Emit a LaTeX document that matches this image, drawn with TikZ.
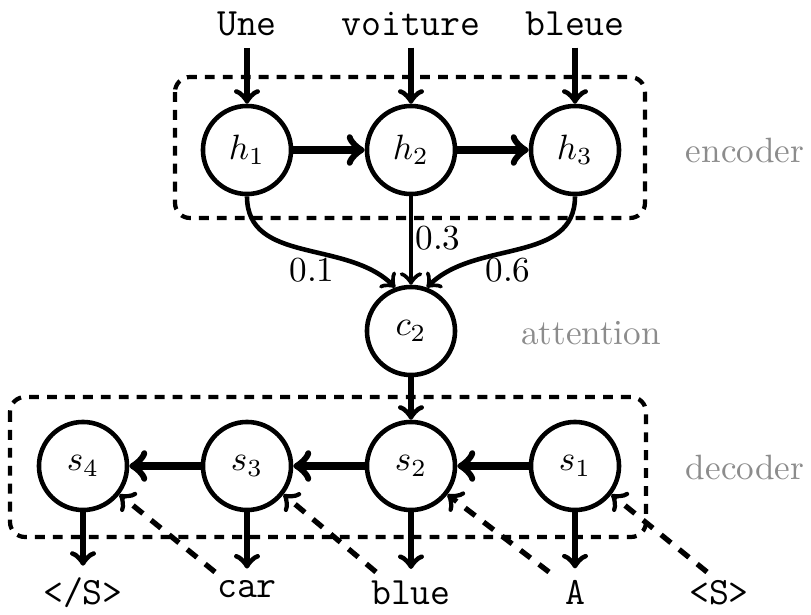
\documentclass[tikz,border=0pt]{standalone}
\usetikzlibrary{positioning}

\begin{document}
\begin{tikzpicture}[x=0.01cm, y=-0.01cm,
	rnn/.style={circle, draw, line width=1.3pt, minimum size=0.88cm, inner sep=0pt},
	word/.style={font=\fontsize{11}{13}\selectfont\ttfamily, anchor=base},
	part/.style={text=black!45},
	recur/.style={->, line width=2.1pt},
	io/.style={->, line width=1.6pt},
	attn/.style={->, line width=1.3pt},
	feed/.style={->, line width=1.5pt, dash pattern=on 3.6pt off 3pt},
	box/.style={line width=1.2pt, dash pattern=on 2.8pt off 2.3pt, rounded corners=0.15cm}]

	\useasboundingbox (0,0) rectangle (811,615);

	% ENCODER
	\node[rnn] (h1) at (247,150) {$h_1$};
	\node[rnn] (h2) at (411,150) {$h_2$};
	\node[rnn] (h3) at (575,150) {$h_3$};

	\node[word] (une) at (247,35) {Une};
	\node[word] (voiture) at (411,35) {voiture};
	\node[word] (bleue) at (575,35) {bleue};

	\draw[io] (une) -- (h1);
	\draw[io] (voiture) -- (h2);
	\draw[io] (bleue) -- (h3);
	\draw[recur] (h1) -- (h2);
	\draw[recur] (h2) -- (h3);

	\draw[box] (175,77) rectangle (645,218);
	\node[part] (enc) at (745,150) {encoder};

	% ATTENTION
	\node[rnn] (c2) at (411,331) {$c_2$};
	\draw[attn] (h1) to[out=-90, in=135] (c2.110);
	\draw[attn] (h2) -- (c2);
	\draw[attn] (h3) to[out=-90, in=45] (c2.70);

	\node (w1) at (312,270) {0.1};
	\node (w2) at (438,238) {0.3};
	\node (w3) at (508,270) {0.6};
	\node[part] (att) at (591,333) {attention};

	% DECODER
	\node[rnn] (s4) at (83,466) {$s_4$};
	\node[rnn] (s3) at (247,466) {$s_3$};
	\node[rnn] (s2) at (411,466) {$s_2$};
	\node[rnn] (s1) at (575,466) {$s_1$};

	\draw[io] (c2) -- (s2);
	\draw[recur] (s1) -- (s2);
	\draw[recur] (s2) -- (s3);
	\draw[recur] (s3) -- (s4);

	\node[word] (eos) at (83,605) {</S>};
	\node[word] (car) at (247,598) {car};
	\node[word] (blue) at (411,605) {blue};
	\node[word] (a) at (575,605) {A};
	\node[word] (bos) at (719,605) {<S>};

	\draw[io] (s4) -- (eos);
	\draw[io] (s3) -- (car);
	\draw[io] (s2) -- (blue);
	\draw[io] (s1) -- (a);

	\coordinate (tcar) at (215,572);
	\coordinate (tblue) at (376,572);
	\coordinate (ta) at (549,572);
	\coordinate (tbos) at (707,572);
	\draw[feed] (tcar) -- (s4.-38);
	\draw[feed] (tblue) -- (s3.-38);
	\draw[feed] (ta) -- (s2.-38);
	\draw[feed] (tbos) -- (s1.-38);

	\draw[box] (10,397) rectangle (646,537);
	\node[part] (dec) at (745,467) {decoder};

\end{tikzpicture}
\end{document}
